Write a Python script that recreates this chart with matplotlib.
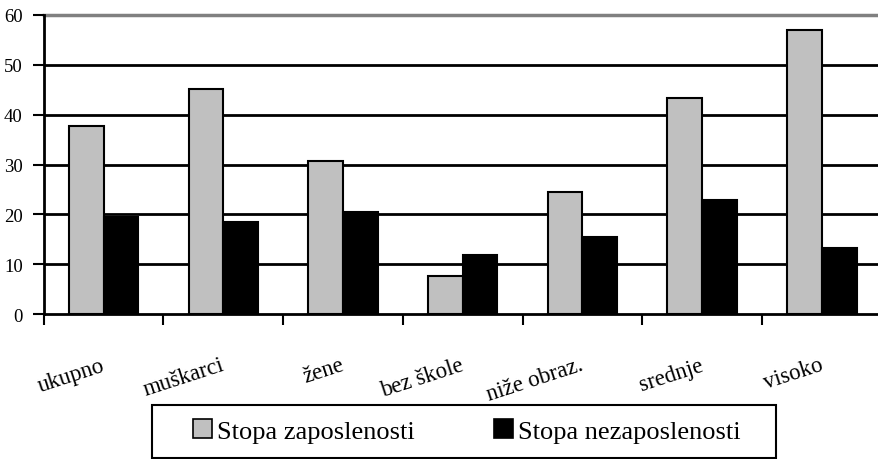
import numpy as np
import matplotlib
matplotlib.use("Agg")
import matplotlib.pyplot as plt
from matplotlib.patches import Patch, Rectangle

categories = ["ukupno", "muškarci", "žene", "bez škole", "niže obraz.", "srednje", "visoko"]
zaposlenost = [37.7, 45.1, 30.8, 7.6, 24.5, 43.4, 56.9]
nezaposlenost = [19.4, 18.5, 20.5, 11.8, 15.5, 22.8, 13.3]
yticks = [0, 10, 20, 30, 40, 50, 60]

GRAY = "#c0c0c0"

plt.rcParams.update({
    "font.family": ["Liberation Serif", "DejaVu Serif"],
    "font.size": 14,
})

fig = plt.figure(figsize=(8.79, 4.60), dpi=100)
ax = fig.add_axes([43.7 / 879, 1 - 315 / 460, 838 / 879, 299 / 460])

x = np.arange(len(categories))
w = 0.29
ax.bar(x - w / 2, zaposlenost, w, color=GRAY, edgecolor="black", linewidth=1.5,
       label="Stopa zaposlenosti", zorder=3)
ax.bar(x + w / 2, nezaposlenost, w, color="black", edgecolor="black", linewidth=1.5,
       label="Stopa nezaposlenosti", zorder=3)

ax.set_xlim(-0.5, len(categories) - 0.5)
ax.set_ylim(0, 60)
ax.set_yticks(yticks)
for v in yticks[1:-1]:
    ax.axhline(v, color="black", linewidth=2, zorder=1)
ax.axhline(60, color="#808080", linewidth=2.5, zorder=1, clip_on=False)

# category ticks at the boundaries between groups
ax.set_xticks(np.arange(len(categories) + 1) - 0.5)
ax.set_xticklabels([])
ax.tick_params(axis="x", direction="out", length=8, width=1.5)
ax.tick_params(axis="y", direction="out", length=8, width=1.5, labelsize=13.5, pad=7)

for i, name in enumerate(categories):
    ax.annotate(name, xy=(i, 0), xycoords="data", xytext=(-2, -29),
                textcoords="offset points", rotation=18, ha="right", va="top",
                rotation_mode="anchor", fontsize=16.5)

for s in ["top", "right"]:
    ax.spines[s].set_visible(False)
ax.spines["left"].set_linewidth(2)
ax.spines["bottom"].set_linewidth(2)

# legend box drawn by hand (Excel-like padding)
fig.patches.append(Rectangle((152 / 879, 1 - 459 / 460), 624 / 879, 53 / 460,
                             transform=fig.transFigure, facecolor="white",
                             edgecolor="black", linewidth=1.5, zorder=5))
handles = [Patch(facecolor=GRAY, edgecolor="black", linewidth=1.2),
           Patch(facecolor="black", edgecolor="black", linewidth=1.2)]
leg = fig.legend(handles, ["Stopa zaposlenosti", "Stopa nezaposlenosti"],
                 loc="center", bbox_to_anchor=(467 / 879, 1 - 432 / 460), ncol=2,
                 frameon=False, fontsize=19, handlelength=0.72,
                 handleheight=0.72, handletextpad=0.19, columnspacing=3.0,
                 borderpad=0, borderaxespad=0)
leg.set_zorder(6)

fig.savefig("out.png", dpi=100)
